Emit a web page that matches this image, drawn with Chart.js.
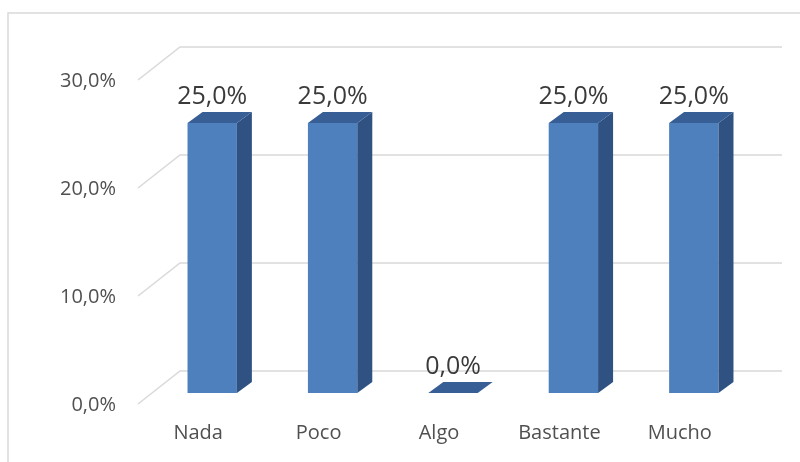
<!DOCTYPE html>
<html>
<head>
<meta charset="utf-8">
<script src="https://cdn.jsdelivr.net/npm/chart.js@4.4.1/dist/chart.umd.min.js"></script>
<style>
html,body{margin:0;padding:0;background:#fff;}
#wrap{width:800px;height:462px;position:relative;}
</style>
</head>
<body>
<div id="wrap"><canvas id="c" width="800" height="462"></canvas></div>
<script>
const categories = ["Nada", "Poco", "Algo", "Bastante", "Mucho"];
const values = [25.0, 25.0, 0.0, 25.0, 25.0];
const yTicks = [0, 10, 20, 30];

const FONT = "'Open Sans', 'DejaVu Sans', sans-serif";
const fmt = v => v.toFixed(1).replace('.', ',') + '%';

// 3D projection offsets (pixels) relative to the bar plane
const BACK = {dx: 28, dy: -22};
const FRONT = {dx: -14, dy: 11};
const DEPTH = {dx: 15, dy: -11};

const plugin3d = {
  id: 'plugin3d',
  beforeDraw(chart) {
    const ctx = chart.ctx;
    ctx.save();
    ctx.fillStyle = '#fff';
    ctx.fillRect(0, 0, chart.width, chart.height);
    ctx.strokeStyle = '#D9D9D9';
    ctx.lineWidth = 1.5;
    ctx.strokeRect(8, 13, chart.width + 20, chart.height + 20);
    ctx.restore();
  },
  beforeDatasetsDraw(chart) {
    const ctx = chart.ctx;
    const y = chart.scales.y, x = chart.scales.x;
    const area = chart.chartArea;
    ctx.save();
    ctx.strokeStyle = '#D9D9D9';
    ctx.lineWidth = 1.5;
    yTicks.forEach(v => {
      const py = y.getPixelForValue(v);
      ctx.beginPath();
      ctx.moveTo(area.left + FRONT.dx, py + FRONT.dy);
      ctx.lineTo(area.left + BACK.dx, py + BACK.dy);
      ctx.lineTo(area.right + BACK.dx, py + BACK.dy);
      ctx.stroke();
      // tick label
      ctx.fillStyle = '#505050';
      ctx.font = '20px ' + FONT;
      ctx.textAlign = 'right';
      ctx.textBaseline = 'middle';
      ctx.fillText(fmt(v), 116, py + FRONT.dy + 1);
    });
    // category labels on the front plane
    ctx.fillStyle = '#505050';
    ctx.font = '20px ' + FONT;
    ctx.textAlign = 'center';
    ctx.textBaseline = 'middle';
    categories.forEach((c, i) => {
      ctx.fillText(c, x.getPixelForValue(i) + FRONT.dx, 433);
    });
    ctx.restore();
  },
  afterDatasetsDraw(chart) {
    const ctx = chart.ctx;
    const meta = chart.getDatasetMeta(0);
    ctx.save();
    meta.data.forEach((bar, i) => {
      const left = bar.x - bar.width / 2, right = bar.x + bar.width / 2;
      const top = bar.y, base = bar.base;
      // side face
      ctx.fillStyle = '#2F5283';
      ctx.beginPath();
      ctx.moveTo(right, top);
      ctx.lineTo(right + DEPTH.dx, top + DEPTH.dy);
      ctx.lineTo(right + DEPTH.dx, base + DEPTH.dy);
      ctx.lineTo(right, base);
      ctx.closePath();
      ctx.fill();
      // top face
      ctx.fillStyle = '#375E95';
      ctx.beginPath();
      ctx.moveTo(left, top);
      ctx.lineTo(left + DEPTH.dx, top + DEPTH.dy);
      ctx.lineTo(right + DEPTH.dx, top + DEPTH.dy);
      ctx.lineTo(right, top);
      ctx.closePath();
      ctx.fill();
      // data label
      ctx.fillStyle = '#3A3A3A';
      ctx.font = '25px ' + FONT;
      ctx.textAlign = 'center';
      ctx.textBaseline = 'middle';
      ctx.fillText(fmt(values[i]), bar.x, top - 26);
    });
    ctx.restore();
  }
};

new Chart(document.getElementById('c'), {
  type: 'bar',
  data: {
    labels: categories,
    datasets: [{
      data: values,
      backgroundColor: '#4F80BE',
      borderWidth: 0,
      categoryPercentage: 1.0,
      barPercentage: 0.41
    }]
  },
  options: {
    responsive: false,
    animation: false,
    devicePixelRatio: 1,
    layout: {padding: {left: 152, right: 46, top: 69, bottom: 69}},
    plugins: {legend: {display: false}, tooltip: {enabled: false}},
    scales: {
      x: {display: false},
      y: {display: false, min: 0, max: 30}
    }
  },
  plugins: [plugin3d]
});
</script>
</body>
</html>
